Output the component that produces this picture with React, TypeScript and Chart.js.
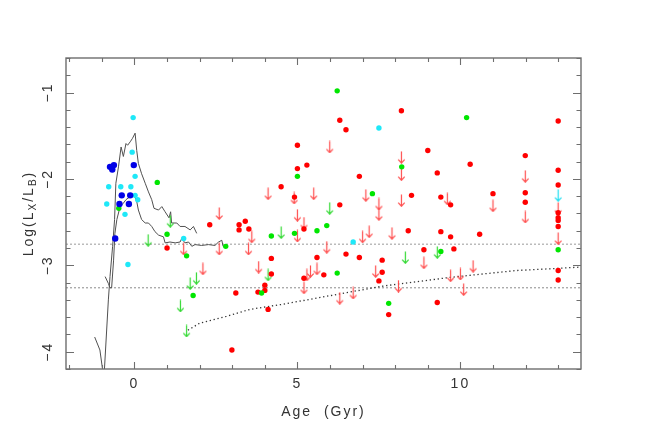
import { useEffect, useRef } from 'react';
import { Chart, registerables } from 'chart.js';

Chart.register(...registerables);

// ---- axis settings ----
const xRange = [-2.1, 13.7];
const yRange = [-4.2, -0.6];
const xTickValues = [0, 5, 10];
const yTickValues = [-4, -3, -2, -1];
const xTitle = 'Age  (Gyr)';

// ---- data: [age (Gyr), log(Lx/LB)] ----
const redDots: [number, number][] = [
  [1.0, -2.8], [2.31, -2.53], [3.21, -2.53], [3.21, -2.59], [3.4, -2.49], [3.51, -2.58],
  [3.11, -3.32], [3.79, -3.31], [2.99, -3.98],
  [8.19, -1.21], [13.0, -1.33], [6.3, -1.32], [6.49, -1.43], [5.0, -1.61], [9.0, -1.67],
  [11.99, -1.73], [5.29, -1.84], [10.3, -1.83], [5.0, -1.88], [9.29, -1.93], [13.0, -1.9],
  [6.9, -1.97], [4.5, -2.09], [13.0, -2.07], [11.0, -2.17], [11.99, -2.16], [8.5, -2.19],
  [9.4, -2.21], [4.91, -2.21], [9.7, -2.3], [11.99, -2.27], [6.3, -2.3], [13.0, -2.39],
  [13.0, -2.45], [13.0, -2.48], [13.0, -2.55], [5.2, -2.58], [8.4, -2.6], [9.4, -2.61],
  [10.59, -2.64], [9.7, -2.67], [8.88, -2.82], [9.8, -2.81], [6.49, -2.87], [6.9, -2.91],
  [5.6, -2.91], [4.2, -2.92], [7.6, -2.94], [7.6, -3.08], [7.5, -3.18], [4.2, -3.1],
  [5.2, -3.15], [5.81, -3.11], [13.0, -3.06], [13.0, -3.17], [4.0, -3.23], [4.0, -3.29],
  [4.1, -3.51], [7.8, -3.57], [9.29, -3.43],
];

const greenDots: [number, number][] = [
  [0.7, -2.04], [-0.48, -2.34], [1.0, -2.64], [1.6, -2.89], [2.8, -2.78], [1.8, -3.35],
  [6.22, -0.98], [10.19, -1.29], [8.2, -1.86], [5.0, -1.97], [7.3, -2.17], [5.9, -2.54],
  [5.6, -2.6], [4.91, -2.63], [4.2, -2.66], [13.0, -2.82], [9.4, -2.84], [6.22, -3.09],
  [3.9, -3.32], [7.8, -3.44],
];

const cyanDots: [number, number][] = [
  [-0.04, -1.29], [-0.07, -1.69], [0.02, -1.97], [-0.79, -2.09], [-0.42, -2.09], [-0.11, -2.09],
  [0.02, -2.19], [0.1, -2.24], [-0.85, -2.29], [-0.29, -2.41], [-0.2, -2.99], [1.51, -2.69],
  [7.5, -1.41], [6.71, -2.73],
];

const blueDots: [number, number][] = [
  [-0.02, -1.84], [-0.75, -1.86], [-0.63, -1.84], [-0.68, -1.89], [-0.39, -2.19], [-0.13, -2.19],
  [-0.46, -2.29], [-0.17, -2.29], [-0.59, -2.69],
];

const redLimits: [number, number][] = [
  [1.51, -2.81], [2.6, -2.4], [2.6, -2.81], [3.6, -2.67], [3.5, -2.81], [2.1, -3.04], [3.81, -3.02],
  [5.99, -1.63], [8.19, -1.75], [8.19, -1.95], [11.99, -1.97], [4.1, -2.17], [5.5, -2.17],
  [4.9, -2.22], [7.1, -2.19], [8.19, -2.25], [7.5, -2.29], [9.6, -2.23], [11.0, -2.31],
  [7.5, -2.41], [5.0, -2.42], [5.2, -2.51], [11.99, -2.44], [13.0, -2.34], [13.0, -2.69],
  [5.0, -2.66], [7.0, -2.67], [7.2, -2.61], [7.9, -2.63], [5.9, -2.79], [8.88, -2.97],
  [10.39, -3.01], [5.4, -3.07], [5.6, -3.04], [5.29, -3.11], [7.4, -3.07], [9.7, -3.12],
  [10.0, -3.1], [5.2, -3.26], [8.1, -3.24], [10.1, -3.28], [6.3, -3.38], [6.71, -3.32],
];

const greenLimits: [number, number][] = [
  [1.1, -2.49], [0.42, -2.71], [1.9, -3.15], [1.71, -3.21], [1.41, -3.47], [1.6, -3.76],
  [5.99, -2.34], [4.5, -2.62], [4.1, -3.11], [8.31, -2.91], [9.29, -2.85],
];

const cyanLimits: [number, number][] = [[13.0, -2.19]];

// model tracks
const trackUpper: [number, number][] = [
  [-0.92, -4.2], [-0.8, -3.4], [-0.75, -3.13], [-0.67, -2.78], [-0.61, -2.47], [-0.57, -2.05],
  [-0.49, -1.86], [-0.41, -1.63], [-0.34, -1.74], [-0.26, -1.59], [-0.21, -1.61], [-0.13, -1.57],
  [-0.06, -1.53], [0.02, -1.47], [0.07, -1.67], [0.12, -1.82], [0.22, -1.94], [0.33, -2.05],
  [0.43, -2.15], [0.53, -2.24], [0.6, -2.34], [0.74, -2.36], [0.84, -2.32], [0.94, -2.38],
  [1.06, -2.45], [1.11, -2.38], [1.14, -2.51], [1.3, -2.51], [1.4, -2.55], [1.55, -2.55],
  [1.71, -2.59], [1.81, -2.55], [1.91, -2.63],
];

const trackLowerStart: [number, number][] = [
  [-1.22, -3.83], [-1.06, -3.98], [-0.98, -4.2],
];

const trackLower: [number, number][] = [
  [-0.9, -3.13], [-0.8, -3.21], [-0.75, -3.26], [-0.7, -3.26], [-0.64, -2.94], [-0.6, -2.63],
  [-0.54, -2.47], [-0.44, -2.32], [-0.34, -2.28], [-0.26, -2.24], [-0.08, -2.19], [0.0, -2.2],
  [0.07, -2.26], [0.12, -2.36], [0.22, -2.47], [0.33, -2.51], [0.43, -2.51], [0.53, -2.55],
  [0.63, -2.61], [0.74, -2.65], [0.89, -2.67], [0.94, -2.74], [1.09, -2.73], [1.25, -2.74],
  [1.4, -2.73], [1.45, -2.69], [1.55, -2.74], [1.66, -2.73], [1.76, -2.78], [1.86, -2.76],
  [2.06, -2.77], [2.27, -2.76], [2.47, -2.77], [2.58, -2.73], [2.68, -2.71], [2.72, -2.78],
  [2.82, -2.78],
];

const dottedCurve: [number, number][] = [
  [1.64, -3.75], [2.0, -3.67], [2.82, -3.59], [3.54, -3.51], [4.56, -3.45], [5.58, -3.38],
  [6.6, -3.31], [7.63, -3.24], [8.65, -3.19], [9.67, -3.14], [10.69, -3.1], [11.72, -3.06],
  [12.74, -3.04], [13.7, -3.02],
];

const dashedLevels = [-2.755, -3.26];

const toPts = (arr: [number, number][]) => arr.map(([x, y]) => ({ x, y }));
const fmt = (v: number) => String(v).replace('-', '\u2212');
const FONT = "'Liberation Sans', Arial, sans-serif";

function makeArrow(color: string): HTMLCanvasElement {
  const c = document.createElement('canvas');
  c.width = 9;
  c.height = 13;
  const g = c.getContext('2d')!;
  g.strokeStyle = color;
  g.lineWidth = 1.2;
  g.beginPath();
  g.moveTo(4.5, 0.5);
  g.lineTo(4.5, 12.2);
  g.moveTo(1.3, 8.6);
  g.lineTo(4.5, 12.2);
  g.lineTo(7.7, 8.6);
  g.stroke();
  return c;
}

const framePlugin = {
  id: 'frameTicks',
  beforeDraw(chart: any) {
    (chart.ctx as any).letterSpacing = '2px';
  },
  afterDraw(chart: any) {
    const ctx = chart.ctx as CanvasRenderingContext2D;
    const { left, right, top, bottom } = chart.chartArea;
    const xs = chart.scales.x;
    const ys = chart.scales.y;
    ctx.save();
    ctx.strokeStyle = '#6e6e6e';
    ctx.lineWidth = 1.4;
    ctx.strokeRect(left, top, right - left, bottom - top);
    ctx.lineWidth = 1.1;
    ctx.beginPath();
    for (let v = Math.ceil(xs.min); v <= xs.max; v++) {
      const p = Math.round(xs.getPixelForValue(v)) + 0.5;
      const len = v % 5 === 0 ? 7 : 4;
      ctx.moveTo(p, bottom);
      ctx.lineTo(p, bottom - len);
      ctx.moveTo(p, top);
      ctx.lineTo(p, top + len);
    }
    for (let k = Math.ceil(ys.min * 5 - 1e-6); k <= Math.floor(ys.max * 5 + 1e-6); k++) {
      const v = k / 5;
      const p = Math.round(ys.getPixelForValue(v)) + 0.5;
      const len = k % 5 === 0 ? 8 : 4.5;
      ctx.moveTo(left, p);
      ctx.lineTo(left + len, p);
      ctx.moveTo(right, p);
      ctx.lineTo(right - len, p);
    }
    ctx.stroke();

    // y-axis title with subscripts
    const pieces = [
      { t: 'Log(L', sub: false },
      { t: 'X', sub: true },
      { t: '/L', sub: false },
      { t: 'B', sub: true },
      { t: ')', sub: false },
    ];
    const big = `14px ${FONT}`;
    const small = `10px ${FONT}`;
    let total = 0;
    const widths = pieces.map((p) => {
      ctx.font = p.sub ? small : big;
      const w = ctx.measureText(p.t).width;
      total += w;
      return w;
    });
    ctx.translate(29, (top + bottom) / 2);
    ctx.rotate(-Math.PI / 2);
    ctx.fillStyle = '#333';
    ctx.textBaseline = 'middle';
    ctx.textAlign = 'left';
    let x = -total / 2;
    pieces.forEach((p, i) => {
      ctx.font = p.sub ? small : big;
      ctx.fillText(p.t, x, p.sub ? 4 : 0);
      x += widths[i];
    });
    ctx.restore();
  },
};

export default function App() {
  const ref = useRef<HTMLCanvasElement | null>(null);

  useEffect(() => {
    document.body.style.margin = '0';
    const redArrow = makeArrow('rgba(255,70,70,0.95)');
    const greenArrow = makeArrow('rgba(40,215,40,0.95)');
    const cyanArrow = makeArrow('rgba(20,220,240,0.95)');

    const dots = (data: [number, number][], color: string, r: number, order: number) => ({
      type: 'scatter' as const,
      data: toPts(data),
      backgroundColor: color,
      borderColor: color,
      borderWidth: 0,
      pointRadius: r,
      order,
    });
    const arrows = (data: [number, number][], img: HTMLCanvasElement, order: number) => ({
      type: 'scatter' as const,
      data: toPts(data),
      pointStyle: img,
      pointRadius: 5,
      order,
    });
    const line = (data: { x: number; y: number }[], color: string, width: number, dash: number[], order: number) => ({
      type: 'scatter' as const,
      data,
      showLine: true,
      borderColor: color,
      borderWidth: width,
      borderDash: dash,
      pointRadius: 0,
      fill: false,
      tension: 0,
      order,
    });

    const chart = new Chart(ref.current!, {
      type: 'scatter',
      data: {
        datasets: [
          line(toPts(dashedLevels.map((y) => [xRange[0], y] as [number, number]).slice(0, 1).concat([[xRange[1], dashedLevels[0]]])), '#9a9a9a', 1, [2, 2], 20),
          line(toPts([[xRange[0], dashedLevels[1]], [xRange[1], dashedLevels[1]]]), '#8a8a8a', 1, [2, 2], 20),
          line(toPts(dottedCurve), '#333333', 1.3, [1.3, 2.7], 19),
          line(toPts(trackUpper), '#505050', 1, [], 18),
          line(toPts(trackLowerStart), '#505050', 1, [], 18),
          line(toPts(trackLower), '#505050', 1, [], 18),
          arrows(redLimits, redArrow, 10),
          arrows(greenLimits, greenArrow, 9),
          arrows(cyanLimits, cyanArrow, 9),
          dots(redDots, '#ff0000', 2.7, 5),
          dots(greenDots, '#00e600', 2.7, 4),
          dots(cyanDots, '#1ee8f8', 2.7, 3),
          dots(blueDots, '#0000e6', 3.2, 2),
        ] as any,
      },
      options: {
        responsive: false,
        animation: false,
        events: [],
        layout: { padding: { left: 0, top: 58, right: 67, bottom: 0 } },
        plugins: { legend: { display: false }, tooltip: { enabled: false } },
        scales: {
          x: {
            type: 'linear',
            min: xRange[0],
            max: xRange[1],
            grid: { display: false, drawTicks: false },
            border: { display: false },
            afterBuildTicks: (s: any) => {
              s.ticks = xTickValues.map((value) => ({ value }));
            },
            afterFit: (s: any) => {
              s.height = 68;
            },
            ticks: {
              padding: 7,
              color: '#333',
              font: { family: FONT, size: 14 },
              callback: (v: any) => fmt(Number(v)),
            },
            title: {
              display: true,
              text: xTitle,
              color: '#333',
              font: { family: FONT, size: 14 },
              padding: { top: 0, bottom: 16 },
            },
          },
          y: {
            type: 'linear',
            min: yRange[0],
            max: yRange[1],
            grid: { display: false, drawTicks: false },
            border: { display: false },
            afterBuildTicks: (s: any) => {
              s.ticks = yTickValues.map((value) => ({ value }));
            },
            afterFit: (s: any) => {
              s.width = 66;
            },
            ticks: {
              padding: 10,
              minRotation: 90,
              maxRotation: 90,
              crossAlign: 'center',
              color: '#333',
              font: { family: FONT, size: 14 },
              callback: (v: any) => fmt(Number(v)),
            },
          },
        },
      } as any,
      plugins: [framePlugin],
    });
    return () => chart.destroy();
  }, []);

  return (
    <div style={{ width: 648, height: 437 }}>
      <canvas ref={ref} width={648} height={437} style={{ display: 'block' }} />
    </div>
  );
}
